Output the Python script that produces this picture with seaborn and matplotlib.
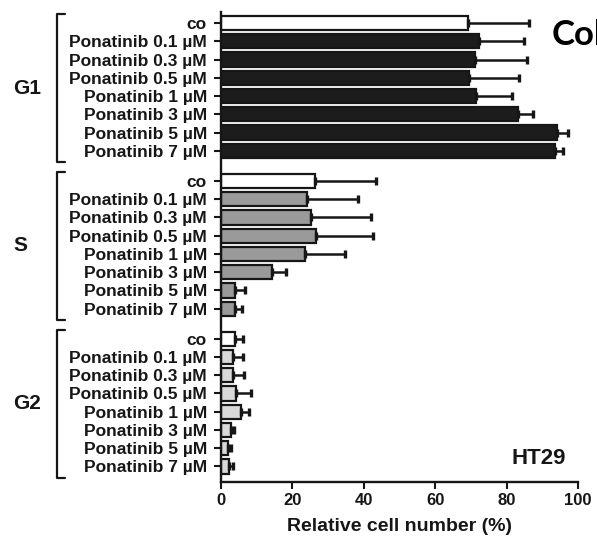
import numpy as np
import pandas as pd
import matplotlib
matplotlib.use("Agg")
import matplotlib.pyplot as plt
import matplotlib.transforms as mtransforms
from matplotlib.lines import Line2D
import seaborn as sns

# ---- data ----
conditions = ["co", "Ponatinib 0.1 µM", "Ponatinib 0.3 µM", "Ponatinib 0.5 µM",
              "Ponatinib 1 µM", "Ponatinib 3 µM", "Ponatinib 5 µM", "Ponatinib 7 µM"]
phases = ["G1", "S", "G2"]
g1_mean = [69.3, 72.2, 71.3, 69.6, 71.5, 83.1, 94.0, 93.6]
g1_err = [17.1, 12.7, 14.5, 13.9, 9.9, 4.4, 3.1, 2.1]
s_mean = [26.4, 24.1, 25.3, 26.7, 23.7, 14.4, 4.0, 4.1]
s_err = [17.0, 14.3, 16.9, 16.0, 11.1, 4.0, 2.7, 1.9]
g2_mean = [4.0, 3.5, 3.4, 4.3, 5.6, 2.8, 2.0, 2.4]
g2_err = [2.3, 2.7, 3.1, 4.2, 2.2, 0.9, 0.8, 1.1]
x_ticks = [0, 20, 40, 60, 80, 100]
x_label = "Relative cell number (%)"
cell_line = "HT29"
corner_text = "Col"

# ---- style ----
sns.set_style("ticks")
plt.rcParams["font.family"] = ["Liberation Sans", "DejaVu Sans"]
plt.rcParams["font.weight"] = "bold"
INK = "#161616"

GAP = 1.65
rows = []
for gi, (ph, means, errs) in enumerate(zip(phases, [g1_mean, s_mean, g2_mean],
                                            [g1_err, s_err, g2_err])):
    for ci, (c, m, e) in enumerate(zip(conditions, means, errs)):
        pos = round(gi * (len(conditions) - 1 + GAP) + ci, 4)
        rows.append(dict(phase=ph, cond=c, pos=pos, value=m, err=e,
                         shade="co" if ci == 0 else ph))
df = pd.DataFrame(rows)

fig = plt.figure(figsize=(5.97, 5.42), dpi=100)
ax = fig.add_axes([0.3697, 0.1107, 0.5985, 0.867])

palette = {"co": "white", "G1": "#1c1c1c", "S": "#9a9a9a", "G2": "#d9d9d9"}
sns.barplot(data=df, x="value", y="pos", hue="shade", palette=palette,
            orient="h", native_scale=True, dodge=False, errorbar=None,
            width=0.78, edgecolor=INK, linewidth=1.6, saturation=1,
            legend=False, ax=ax)

ax.errorbar(df["value"], df["pos"], xerr=[np.zeros(len(df)), df["err"]],
            fmt="none", ecolor=INK, elinewidth=1.8, capsize=3, capthick=2.4,
            zorder=3)

ax.set_xlim(0, 100)
ax.set_ylim(df["pos"].max() + 0.85, -0.6)
ax.set_yticks(df["pos"])
ax.set_yticklabels(df["cond"])
ax.set_xticks(x_ticks)
ax.set_xticklabels([str(t) for t in x_ticks])
ax.set_ylabel("")
ax.set_xlabel(x_label, fontsize=14, fontweight="bold", labelpad=7, color=INK)
sns.despine(ax=ax)
for s in ["left", "bottom"]:
    ax.spines[s].set_linewidth(1.7)
    ax.spines[s].set_color(INK)
ax.tick_params(axis="y", length=5, width=1.5, pad=5, labelsize=12.5, colors=INK)
ax.tick_params(axis="x", length=5, width=1.5, pad=3, labelsize=12, colors=INK)

# ---- group brackets and labels ----
trans = mtransforms.blended_transform_factory(fig.transFigure, ax.transData)
W, H = 597.0, 542.0
for ph in phases:
    sub = df[df["phase"] == ph]
    top = sub["pos"].min() - 0.5
    bot = sub["pos"].max() + 0.62
    fig.add_artist(Line2D([65 / W, 56.5 / W, 56.5 / W, 65 / W], [top, top, bot, bot],
                          transform=trans, color=INK, lw=1.6, clip_on=False))
    fig.text(13 / W, (top + bot) / 2, ph, transform=trans, ha="left", va="center",
             fontsize=15, fontweight="bold", color=INK)

fig.text(539 / W, 1 - 458 / H, cell_line, ha="center", va="center",
         fontsize=16, fontweight="bold", color=INK)
fig.text(552 / W, 1 - 45 / H, corner_text, ha="left", va="baseline",
         fontsize=25, fontweight="bold", family=["Lato", "DejaVu Sans"], color="black")

fig.savefig("out.png", dpi=100)
